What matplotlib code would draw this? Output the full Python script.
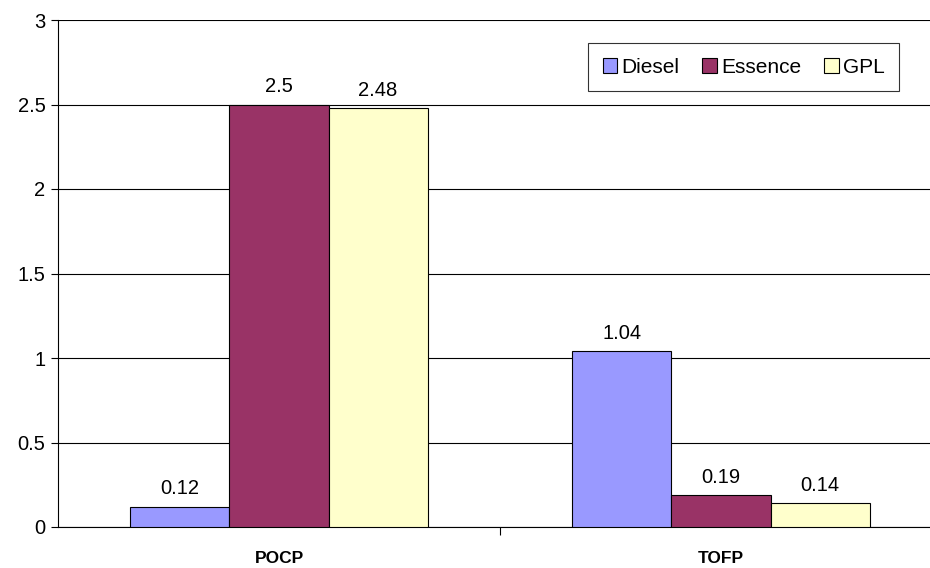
import numpy as np
import matplotlib.pyplot as plt

plt.rcParams['font.family'] = ['Liberation Sans', 'DejaVu Sans']

categories = ["POCP", "TOFP"]
series = ["Diesel", "Essence", "GPL"]
diesel = [0.12, 1.04]
essence = [2.5, 0.19]
gpl = [2.48, 0.14]
colors = ["#9999FF", "#993366", "#FFFFCC"]

fig = plt.figure(figsize=(9.3, 5.68), dpi=100)
ax = fig.add_axes([58 / 930, 41 / 568, 884 / 930, 507 / 568])

x = np.arange(len(categories))
w = 0.224
for k, (name, vals, c) in enumerate(zip(series, [diesel, essence, gpl], colors)):
    pos = x + (k - 1) * w
    bars = ax.bar(pos, vals, w, color=c, edgecolor="black", linewidth=0.8, label=name, zorder=3)
    for b, v in zip(bars, vals):
        ax.annotate(f"{v:g}", (b.get_x() + b.get_width() / 2, v), xytext=(0, 6),
                    textcoords="offset points", ha="center", va="bottom", fontsize=14.5)

ax.set_xlim(-0.5, 1.5)
ax.set_ylim(0, 3)
ax.set_yticks(np.arange(0, 3.01, 0.5))
ax.set_yticklabels(["0", "0.5", "1", "1.5", "2", "2.5", "3"], fontsize=14.5)
ax.yaxis.grid(True, color="black", linewidth=0.8, zorder=0)

ax.set_xticks([0.5])
ax.set_xticklabels([""])
ax.tick_params(axis="x", length=6, width=0.8, direction="out")
ax.tick_params(axis="y", length=5, width=0.8, pad=4)
for i, cat in enumerate(categories):
    ax.annotate(cat, (i, 0), xytext=(0, -17), textcoords="offset points",
                ha="center", va="top", fontsize=12.5, fontweight="bold", annotation_clip=False)

for s in ["top", "right"]:
    ax.spines[s].set_visible(False)
ax.spines["left"].set_linewidth(0.8)
ax.spines["bottom"].set_linewidth(0.8)

leg = ax.legend(loc="upper left", bbox_to_anchor=(530 / 884, 1 - 23 / 507), ncol=3, fontsize=15,
                frameon=True, fancybox=False, edgecolor="black", handlelength=0.7, handleheight=0.7,
                handletextpad=0.2, columnspacing=1.1, borderpad=0.7, borderaxespad=0)
leg.get_frame().set_linewidth(0.8)

fig.savefig("out.png", dpi=100)
